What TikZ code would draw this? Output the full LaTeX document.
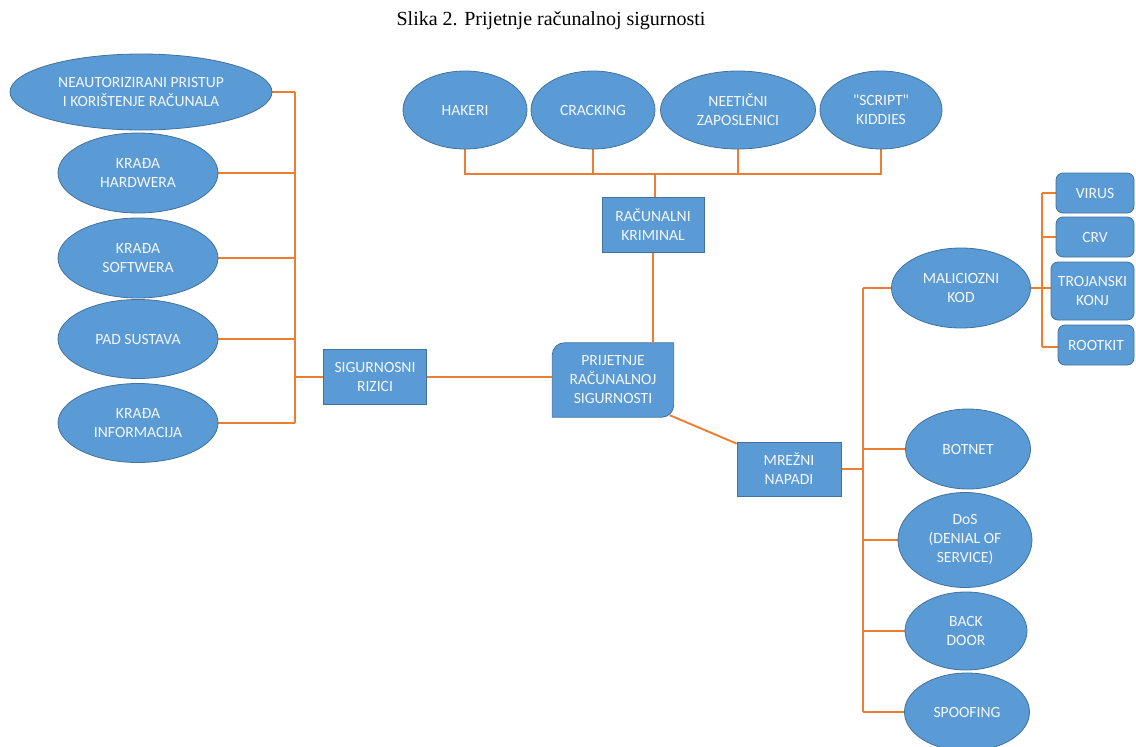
\documentclass[tikz,border=0pt]{standalone}
\usepackage{fontspec}
\setmainfont{Liberation Serif}
\newfontfamily\carl{Carlito}
\usetikzlibrary{shapes.geometric,backgrounds,calc}
\definecolor{fillb}{HTML}{5B9BD5}
\definecolor{bord}{HTML}{41719C}
\definecolor{orng}{HTML}{ED7D31}
\definecolor{txt}{HTML}{F4F7FB}
\begin{document}
\begin{tikzpicture}[x=1pt,y=1pt,
  lbl/.style={align=center, text=txt, font=\carl\fontsize{15.6}{19}\selectfont, inner sep=0pt},
  ell/.style={lbl, ellipse, fill=fillb, draw=bord, line width=0.8pt},
  sqbox/.style={lbl, rectangle, fill=fillb, draw=bord, line width=0.8pt},
  rbox/.style={sqbox, rounded corners=7pt},
  conn/.style={draw=orng, line width=1.9pt}]
\useasboundingbox (0,0) rectangle (1136,-747);

\node[font=\fontsize{20}{24}\selectfont] (title) at (551,-21) {Slika 2. Prijetnje računalnoj sigurnosti};

% left ellipses
\node[ell, minimum width=262, minimum height=76] (neaut) at (141,-92) {NEAUTORIZIRANI PRISTUP\\I KORIŠTENJE RAČUNALA};
\node[ell, minimum width=160, minimum height=80] (hw) at (138,-173) {KRAĐA\\HARDWERA};
\node[ell, minimum width=160, minimum height=80] (sw) at (138,-258) {KRAĐA\\SOFTWERA};
\node[ell, minimum width=160, minimum height=79] (pad) at (138,-339) {PAD SUSTAVA};
\node[ell, minimum width=160, minimum height=79] (inf) at (138,-423) {KRAĐA\\INFORMACIJA};

\node[sqbox, minimum width=103, minimum height=55] (sig) at (375,-377) {SIGURNOSNI\\RIZICI};

% central box (rounded diagonal corners)
\node[lbl, minimum width=121, minimum height=74] (prij) at (613,-380) {PRIJETNJE\\RAČUNALNOJ\\SIGURNOSTI};

% top
\node[ell, minimum width=124, minimum height=78] (hak) at (465,-110) {HAKERI};
\node[ell, minimum width=124, minimum height=78] (crk) at (593,-110) {CRACKING};
\node[ell, minimum width=155, minimum height=78] (neet) at (738,-110) {NEETIČNI\\ZAPOSLENICI};
\node[ell, minimum width=122, minimum height=78] (kid) at (881,-110) {"SCRIPT"\\KIDDIES};
\node[sqbox, minimum width=102, minimum height=55] (rk) at (653,-225) {RAČUNALNI\\KRIMINAL};

% right
\node[sqbox, minimum width=104, minimum height=54] (mrez) at (789,-469) {MREŽNI\\NAPADI};
\node[ell, minimum width=139, minimum height=80] (mal) at (961,-288) {MALICIOZNI\\KOD};
\node[rbox, minimum width=78, minimum height=40] (vir) at (1095,-193) {VIRUS};
\node[rbox, minimum width=83, minimum height=58] (troj) at (1092.5,-291) {TROJANSKI\\KONJ};
\node[rbox, minimum width=78, minimum height=40] (crv) at (1095,-237) {CRV};
\node[rbox, minimum width=76, minimum height=40] (root) at (1096,-345) {ROOTKIT};

\node[ell, minimum width=125, minimum height=80] (bot) at (968,-449) {BOTNET};
\node[ell, minimum width=134, minimum height=95] (dos) at (965,-540) {DoS\\(DENIAL OF\\SERVICE)};
\node[ell, minimum width=122, minimum height=78] (bd) at (966,-631) {BACK\\DOOR};
\node[ell, minimum width=125, minimum height=78] (spf) at (967,-712) {SPOOFING};

% bus coordinates
\coordinate (Lt) at (295,-92);
\coordinate (Lb) at (295,-423);
\coordinate (Tb) at (655,-174);
\coordinate (Rt) at (863,-288);
\coordinate (Rb) at (863,-712);
\coordinate (St) at (1042,-193);
\coordinate (Sb) at (1042,-347);

\begin{scope}[on background layer]
  % central shape
  \filldraw[fill=fillb, draw=bord, line width=0.8pt]
    (prij.south west) -- ([yshift=-12pt]prij.north west)
    arc[start angle=180, end angle=90, radius=12pt]
    -- (prij.north east) -- ([yshift=12pt]prij.south east)
    arc[start angle=0, end angle=-90, radius=12pt] -- cycle;

  % left tree
  \draw[conn] (Lt) -- (Lb);
  \draw[conn] (neaut.east) -- (neaut.east -| Lt);
  \draw[conn] (hw.east) -- (hw.east -| Lt);
  \draw[conn] (sw.east) -- (sw.east -| Lt);
  \draw[conn] (pad.east) -- (pad.east -| Lt);
  \draw[conn] (inf.east) -- (inf.east -| Lt);
  \draw[conn] (sig.west) -- (sig.west -| Lt);
  \draw[conn] (sig.east) -- (sig.east -| prij.west);

  % top tree
  \draw[conn] (hak.south) -- (hak.south |- Tb) -- (kid.south |- Tb) -- (kid.south);
  \draw[conn] (crk.south) -- (crk.south |- Tb);
  \draw[conn] (neet.south) -- (neet.south |- Tb);
  \draw[conn] (Tb) -- (Tb |- rk.north);
  \draw[conn] (rk.south) -- (rk.south |- prij.north);

  % to network attacks
  \draw[conn] ([xshift=-4pt,yshift=2pt]prij.south east) -- ([yshift=-2pt]mrez.north west);

  % right tree
  \draw[conn] (Rt) -- (Rb);
  \draw[conn] (mrez.east) -- (mrez.east -| Rt);
  \draw[conn] (mal.west) -- (mal.west -| Rt);
  \draw[conn] (bot.west) -- (bot.west -| Rt);
  \draw[conn] (dos.west) -- (dos.west -| Rt);
  \draw[conn] (bd.west) -- (bd.west -| Rt);
  \draw[conn] (spf.west) -- (spf.west -| Rt);

  % malicious code subtree
  \draw[conn] (St) -- (Sb);
  \draw[conn] (mal.east) -- (troj.west |- mal.east);
  \draw[conn] (vir.west) -- (vir.west -| St);
  \draw[conn] (crv.west) -- (crv.west -| St);
  \draw[conn] (root.west |- Sb) -- (Sb);
\end{scope}
\end{tikzpicture}
\end{document}
